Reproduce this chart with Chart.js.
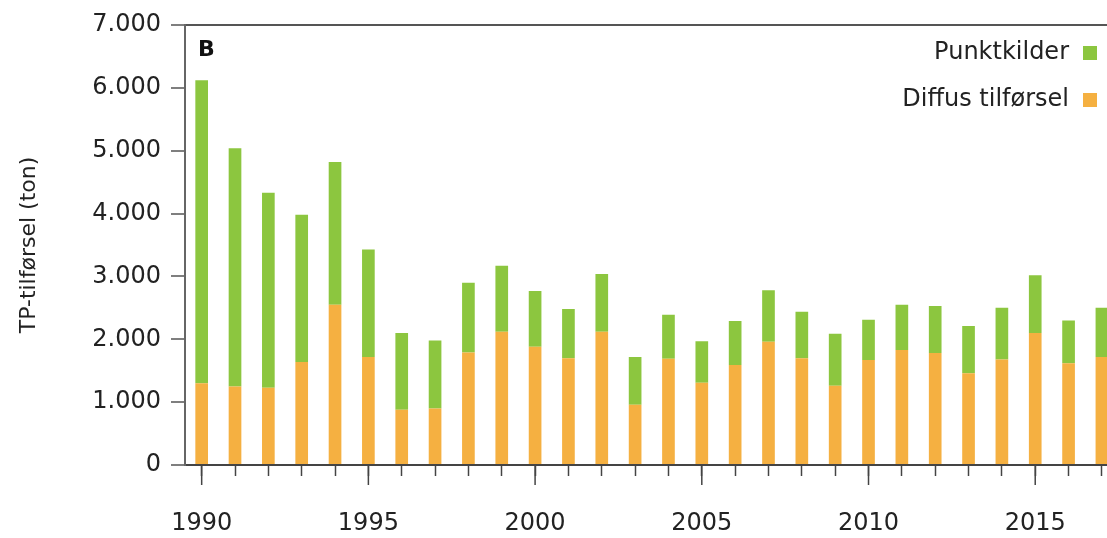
<!DOCTYPE html>
<html>
<head>
<meta charset="utf-8">
<script src="https://cdn.jsdelivr.net/npm/chart.js@4/dist/chart.umd.min.js"></script>
<style>
  html, body { margin: 0; padding: 0; background: #fff; overflow: hidden; }
</style>
</head>
<body>
<canvas id="myChart" width="1135" height="538"></canvas>
<script>
const aar = [1990, 1991, 1992, 1993, 1994, 1995, 1996, 1997, 1998, 1999,
             2000, 2001, 2002, 2003, 2004, 2005, 2006, 2007, 2008, 2009,
             2010, 2011, 2012, 2013, 2014, 2015, 2016, 2017];
const diffus = [1300, 1250, 1230, 1640, 2550, 1720, 880, 900, 1790, 2120,
                1880, 1700, 2120, 960, 1690, 1310, 1590, 1960, 1700, 1260,
                1670, 1830, 1780, 1460, 1680, 2100, 1620, 1720];
const punkt = [4820, 3790, 3100, 2340, 2270, 1710, 1220, 1080, 1110, 1050,
               890, 780, 920, 760, 700, 660, 700, 820, 740, 830,
               640, 720, 750, 750, 820, 920, 680, 780];
const yTicks = ['0', '1.000', '2.000', '3.000', '4.000', '5.000', '6.000', '7.000'];

const FONT = '"DejaVu Sans", Verdana, sans-serif';
const ctx = document.getElementById('myChart').getContext('2d');

// long ticks every 5 years, panel letter and legend (text left of the box)
const extras = {
    id: 'extras',
    afterDraw(chart) {
        const c = chart.ctx;
        const x = chart.scales.x;
        const area = chart.chartArea;
        c.save();
        c.strokeStyle = '#444';
        c.lineWidth = 1.5;
        aar.forEach((a, i) => {
            if (a % 5 === 0) {
                const px = x.getPixelForValue(i);
                c.beginPath();
                c.moveTo(px, area.bottom);
                c.lineTo(px, area.bottom + 20);
                c.stroke();
            }
        });
        c.fillStyle = '#111';
        c.font = 'bold 22px ' + FONT;
        c.fillText('B', area.left + 13, area.top + 31);

        const ds = chart.data.datasets.slice().reverse();
        c.font = '24px ' + FONT;
        c.textAlign = 'right';
        c.textBaseline = 'middle';
        ds.forEach((d, i) => {
            const y = 53 + i * 47;
            c.fillStyle = '#222';
            c.fillText(d.label, 1069, y);
            c.fillStyle = d.backgroundColor;
            c.fillRect(1083, y - 7, 14, 14);
        });
        c.restore();
    }
};

const myChart = new Chart(ctx, {
    type: 'bar',
    data: {
        labels: aar,
        datasets: [{
            label: 'Diffus tilførsel',
            data: diffus,
            backgroundColor: '#f5b041',
            barPercentage: 0.38,
            categoryPercentage: 1
        },
        {
            label: 'Punktkilder',
            data: punkt,
            backgroundColor: '#8cc63f',
            barPercentage: 0.38,
            categoryPercentage: 1
        }]
    },
    options: {
        responsive: false,
        devicePixelRatio: 1,
        animation: false,
        layout: { padding: { left: 12, top: 25, right: 5, bottom: 0 } },
        plugins: {
            tooltip: { enabled: false },
            legend: { display: false }
        },
        scales: {
            x: {
                stacked: true,
                afterFit: s => { s.height = 73; },
                border: { color: '#444', width: 2 },
                grid: { drawOnChartArea: false, offset: false, tickLength: 11, tickColor: '#444', tickWidth: 1.5 },
                ticks: {
                    autoSkip: false,
                    maxRotation: 0,
                    padding: 33,
                    color: '#222',
                    font: { size: 24, family: FONT },
                    callback: (v, i) => (aar[i] % 5 === 0 ? String(aar[i]) : '')
                }
            },
            y: {
                stacked: true,
                min: 0,
                max: 7000,
                afterFit: s => { s.width = 173; },
                border: { color: '#666', width: 2 },
                grid: {
                    color: c => (c.tick && c.tick.value === 7000 ? '#555' : 'transparent'),
                    lineWidth: 2,
                    tickLength: 14,
                    tickColor: '#555',
                    tickWidth: 1.5
                },
                ticks: {
                    stepSize: 1000,
                    padding: 10,
                    color: '#222',
                    font: { size: 24, family: FONT },
                    callback: v => yTicks[v / 1000]
                },
                title: {
                    display: true,
                    text: 'TP-tilførsel (ton)',
                    color: '#222',
                    padding: { top: 4, bottom: 0 },
                    font: { size: 22, family: FONT }
                }
            }
        }
    },
    plugins: [extras]
});
</script>
</body>
</html>
